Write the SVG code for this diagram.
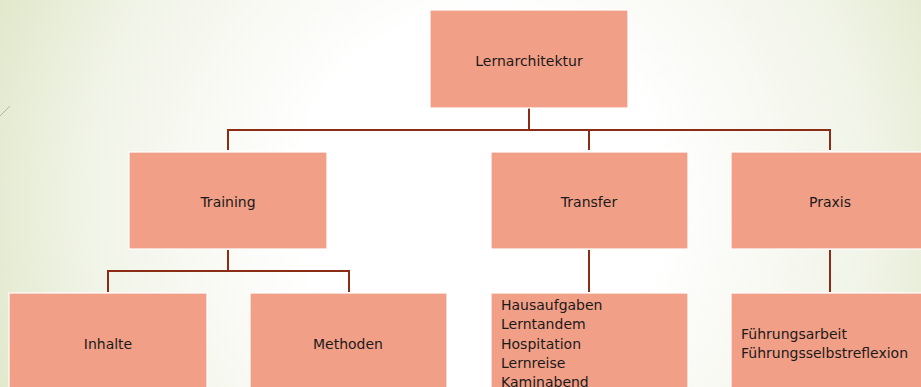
<svg xmlns="http://www.w3.org/2000/svg" width="921" height="387" viewBox="0 0 921 387">
<defs>
<radialGradient id="bg" cx="480" cy="200" r="520" gradientUnits="userSpaceOnUse">
<stop offset="0" stop-color="#ffffff"/>
<stop offset="0.35" stop-color="#ffffff"/>
<stop offset="0.75" stop-color="#f1f4e8"/>
<stop offset="1" stop-color="#e1e8cb"/>
</radialGradient>
<style>
.box{fill:#f29f87;stroke:#ffffff;stroke-width:1.2}
.t{font-family:"DejaVu Sans",Verdana,sans-serif;font-size:14px;fill:#1a1a1a}
.c{text-anchor:middle}
.con{fill:none;stroke:#8b2c14;stroke-width:2}
</style>
</defs>
<rect x="0" y="0" width="921" height="387" fill="url(#bg)"/>
<line x1="0" y1="116" x2="10" y2="106" stroke="#a9a9a0" stroke-width="0.8"/>
<g id="connectors">
<path class="con" d="M529 108 V130 M228 150 V130 H830 V150 M589 130 V150"/>
<path class="con" d="M228 250 V271 M108 292 V271 H349 V292"/>
<path class="con" d="M589 250 V292"/>
<path class="con" d="M830 250 V292"/>
</g>
<g id="lernarchitektur"><rect class="box" x="430" y="10" width="198" height="98"/><text class="t c" x="529" y="66">Lernarchitektur</text></g>
<g id="training"><rect class="box" x="129" y="152" width="198" height="97"/><text class="t c" x="228" y="207">Training</text></g>
<g id="transfer"><rect class="box" x="491" y="152" width="197" height="97"/><text class="t c" x="589" y="207">Transfer</text></g>
<g id="praxis"><rect class="box" x="731" y="152" width="198" height="97"/><text class="t c" x="830" y="207">Praxis</text></g>
<g id="inhalte"><rect class="box" x="9" y="293" width="198" height="100"/><text class="t c" x="108" y="349">Inhalte</text></g>
<g id="methoden"><rect class="box" x="250" y="293" width="197" height="100"/><text class="t c" x="348" y="349">Methoden</text></g>
<g id="transfer-items"><rect class="box" x="491" y="293" width="197" height="100"/>
<text class="t" x="501" y="310">Hausaufgaben</text>
<text class="t" x="501" y="329.3">Lerntandem</text>
<text class="t" x="501" y="348.6">Hospitation</text>
<text class="t" x="501" y="367.9">Lernreise</text>
<text class="t" x="501" y="387.2">Kaminabend</text>
</g>
<g id="praxis-items"><rect class="box" x="731" y="293" width="198" height="100"/>
<text class="t" x="741" y="339.3">Führungsarbeit</text>
<text class="t" x="741" y="358.3">Führungsselbstreflexion</text>
</g>
</svg>
